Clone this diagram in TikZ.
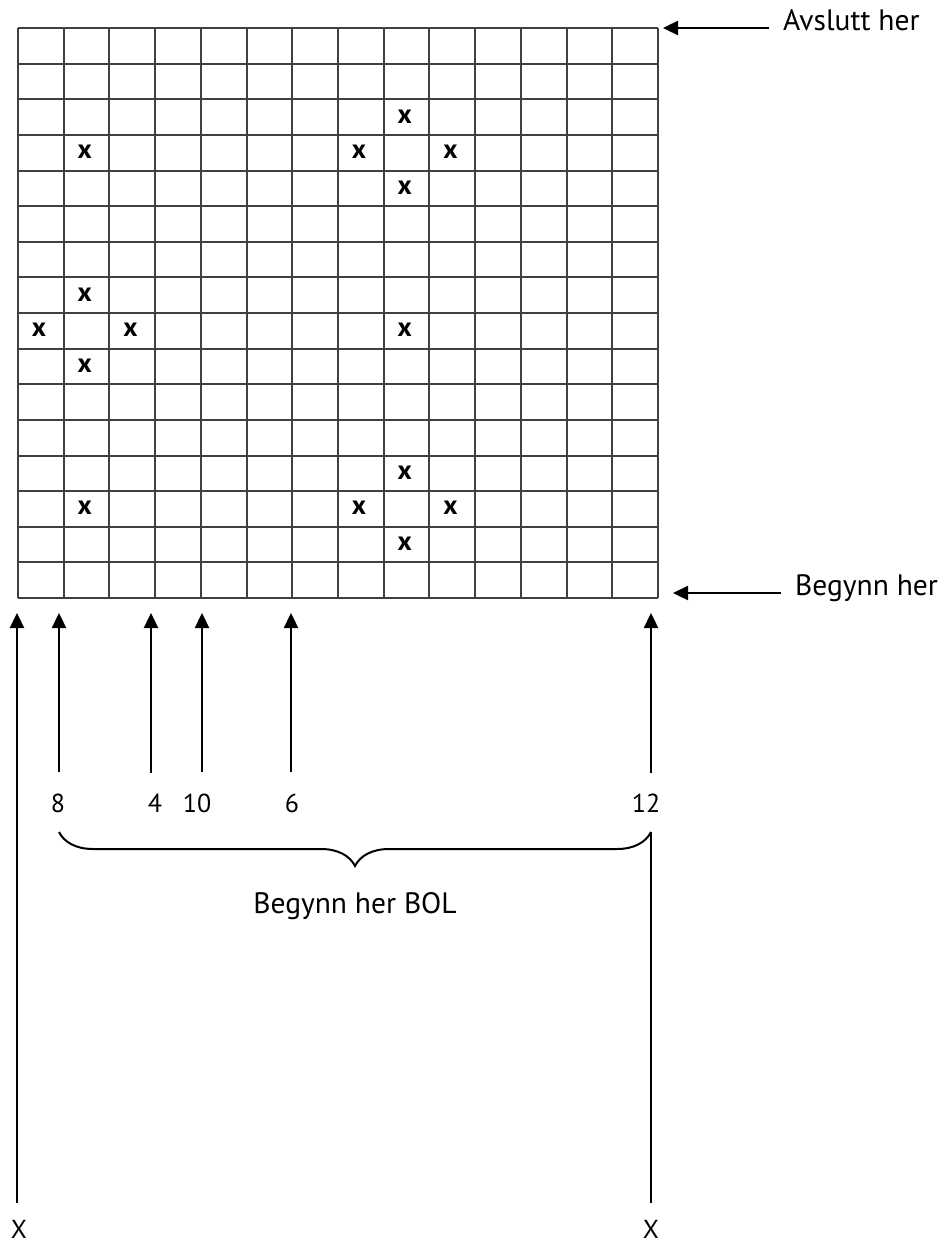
\documentclass[tikz,border=0pt]{standalone}
\usepackage{fontspec}
\setmainfont{PT Sans}
\usetikzlibrary{arrows.meta,decorations.pathreplacing}
\begin{document}
\begin{tikzpicture}[x=1pt,y=-1pt,
	gridline/.style={line width=2pt,black!75},
	pil/.style={line width=2.4pt,-{Triangle[length=15pt,width=14pt]}},
	strek/.style={line width=2.4pt},
	tall/.style={inner sep=0pt,font=\fontsize{26}{26}\selectfont},
	tekst/.style={inner sep=0pt,font=\fontsize{29.5}{30}\selectfont},
	kryss/.style={inner sep=0pt,font=\bfseries\fontsize{27}{27}\selectfont}]
	\useasboundingbox (0,0) rectangle (945,1247);
	\foreach \i in {0,...,14} \draw[gridline] (18+45.714*\i,28) -- (18+45.714*\i,598);
	\foreach \j in {0,...,16} \draw[gridline] (18,28+35.625*\j) -- (658,28+35.625*\j);
	\foreach \c/\r in {8/2,1/3,7/3,9/3,8/4,1/7,0/8,2/8,8/8,1/9,8/12,1/13,7/13,9/13,8/14}
		\node[kryss] (x-\c-\r) at (18+45.714*\c+21,28+35.625*\r+17) {x};
	\coordinate (slutt) at (663,28);
	\node[tekst,anchor=mid west] (avslutt) at (783,28) {Avslutt her};
	\draw[pil,shorten <=14pt] (avslutt.mid west) -- (slutt);
	\coordinate (start) at (673,593);
	\node[tekst,anchor=mid west] (begynn) at (795,593) {Begynn her};
	\draw[pil,shorten <=14pt] (begynn.mid west) -- (start);
	\foreach \n/\xa/\xl in {8/59/58,4/151/155,10/202/197,6/291/292,12/651/646} {
		\coordinate (p\n) at (\xa,613);
		\node[tall] (l\n) at (\xl,803) {\n};
		\draw[pil,shorten <=21pt] (p\n |- l\n.north) -- (p\n);
	}
	\coordinate (p0) at (17,613);
	\node[tall] (xv) at (19,1229) {X};
	\draw[pil,shorten <=17pt] (p0 |- xv.north) -- (p0);
	\coordinate (bueV) at (59,832);
	\coordinate (bueH) at (651,832);
	\node[tall] (xh) at (651,1229) {X};
	\draw[strek,shorten <=17pt] (bueH |- xh.north) -- (bueH);
	\draw[line width=2pt,decorate,decoration={brace,mirror,amplitude=34pt}] (bueV) -- (bueH);
	\node[tekst,anchor=base] (bol) at (355,913) {Begynn her BOL};
\end{tikzpicture}
\end{document}
